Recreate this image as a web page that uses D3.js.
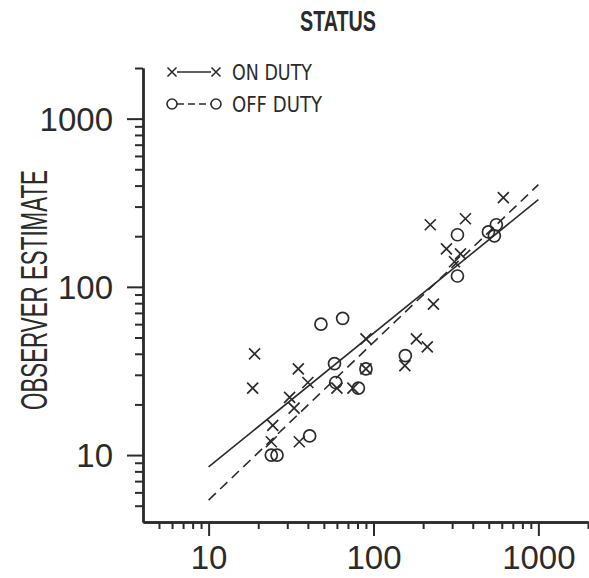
<!DOCTYPE html>
<html>
<head>
<meta charset="utf-8">
<script src="https://cdn.jsdelivr.net/npm/d3@7"></script>
<style>
  html, body { margin: 0; padding: 0; background: #fff; }
  svg { display: block; }
</style>
</head>
<body>
<svg id="chart" width="589" height="578"></svg>
<script>
// Group sizes vs. observer estimates, both on log scales
const onDutyX  = [19, 18.5, 24.5, 24, 31, 33, 35, 40, 35.5, 60, 75, 90, 90, 155, 182, 212, 231, 221, 361, 613, 277, 337, 310];
const onDutyY  = [40, 25, 15, 12, 22, 19, 32.5, 27, 12, 25, 25, 49, 32.5, 34, 49, 44, 79, 234, 254, 339, 168, 157, 141];
const offDutyX = [48, 65, 58, 59, 81, 90, 156, 41, 24, 26, 323, 323, 498, 556, 541];
const offDutyY = [60, 65, 35, 27, 25, 32.5, 39, 13, 10, 10, 204, 116, 212, 234, 201];

// Fitted lines, evaluated at the ends of the fitted range
const fitX       = [10, 1000];
const onDutyFit  = [8.5, 330];
const offDutyFit = [5.4, 405];

const majorTicks = [10, 100, 1000];
const minorTicks = [5, 6, 7, 8, 9, 20, 30, 40, 50, 60, 70, 80, 90,
                    200, 300, 400, 500, 600, 700, 800, 900, 2000];
const tickLabels = ["10", "100", "1000"];

const ink = "#2b2b2b";
const svg = d3.select("#chart");

const x = d3.scaleLog().domain([4, 2000]).range([143, 588]);
const y = d3.scaleLog().domain([4, 2000]).range([522, 68]);

const sans = "'Liberation Sans', Arial, Helvetica, sans-serif";

// Title
svg.append("text")
  .attr("x", 338).attr("y", 31)
  .attr("text-anchor", "middle")
  .attr("font-family", sans)
  .attr("font-weight", "bold")
  .attr("font-size", 30)
  .attr("textLength", 76).attr("lengthAdjust", "spacingAndGlyphs")
  .attr("fill", ink)
  .text("STATUS");

// Y axis title
svg.append("text")
  .attr("transform", "translate(47,290) rotate(-90)")
  .attr("text-anchor", "middle")
  .attr("font-family", sans)
  .attr("font-size", 37)
  .attr("textLength", 240).attr("lengthAdjust", "spacingAndGlyphs")
  .attr("fill", ink)
  .text("OBSERVER ESTIMATE");

// Axes
function styleAxis(g) {
  g.select(".domain").attr("stroke", ink).attr("stroke-width", 2.4);
  g.selectAll(".tick line").attr("stroke", ink).attr("stroke-width", 2);
}

const xMinor = svg.append("g").attr("transform", `translate(0,${y.range()[0]})`)
  .call(d3.axisBottom(x).tickValues(minorTicks).tickSize(7).tickSizeOuter(0).tickFormat(""));
styleAxis(xMinor);
const xMajor = svg.append("g").attr("transform", `translate(0,${y.range()[0]})`)
  .call(d3.axisBottom(x).tickValues(majorTicks).tickSize(14).tickSizeOuter(0)
    .tickFormat((d, i) => tickLabels[i]).tickPadding(10));
styleAxis(xMajor);

const yMinor = svg.append("g").attr("transform", `translate(${x.range()[0]},0)`)
  .call(d3.axisLeft(y).tickValues(minorTicks).tickSize(8).tickSizeOuter(0).tickFormat(""));
styleAxis(yMinor);
const yMajor = svg.append("g").attr("transform", `translate(${x.range()[0]},0)`)
  .call(d3.axisLeft(y).tickValues(majorTicks).tickSize(16).tickSizeOuter(0)
    .tickFormat((d, i) => tickLabels[i]).tickPadding(14));
styleAxis(yMajor);

[xMajor, yMajor].forEach(g => {
  g.selectAll(".tick text")
    .attr("font-family", sans)
    .attr("font-size", 33)
    .attr("fill", ink);
});
yMajor.selectAll(".tick text").attr("dy", "0.36em");

// Fitted lines
const line = d3.line().x(d => x(d[0])).y(d => y(d[1]));
svg.append("path")
  .datum(fitX.map((v, i) => [v, onDutyFit[i]]))
  .attr("d", line).attr("fill", "none")
  .attr("stroke", ink).attr("stroke-width", 1.6);
svg.append("path")
  .datum(fitX.map((v, i) => [v, offDutyFit[i]]))
  .attr("d", line).attr("fill", "none")
  .attr("stroke", ink).attr("stroke-width", 1.6)
  .attr("stroke-dasharray", "10,6");

// Markers
const crossPath = s => `M${-s},${-s}L${s},${s}M${-s},${s}L${s},${-s}`;

svg.append("g").selectAll("path")
  .data(onDutyX.map((v, i) => [v, onDutyY[i]]))
  .join("path")
  .attr("transform", d => `translate(${x(d[0])},${y(d[1])})`)
  .attr("d", crossPath(5.5))
  .attr("fill", "none").attr("stroke", ink).attr("stroke-width", 1.7);

svg.append("g").selectAll("circle")
  .data(offDutyX.map((v, i) => [v, offDutyY[i]]))
  .join("circle")
  .attr("cx", d => x(d[0])).attr("cy", d => y(d[1]))
  .attr("r", 6)
  .attr("fill", "none").attr("stroke", ink).attr("stroke-width", 1.7);

// Legend
const legend = svg.append("g").attr("fill", ink);
const lgX0 = 172, lgX1 = 216, lgText = 232, rowOn = 72, rowOff = 104;
legend.append("path").attr("transform", `translate(${lgX0},${rowOn})`).attr("d", crossPath(4.5))
  .attr("fill", "none").attr("stroke", ink).attr("stroke-width", 1.6);
legend.append("path").attr("transform", `translate(${lgX1},${rowOn})`).attr("d", crossPath(4.5))
  .attr("fill", "none").attr("stroke", ink).attr("stroke-width", 1.6);
legend.append("line").attr("x1", lgX0 + 5).attr("x2", lgX1 - 5).attr("y1", rowOn).attr("y2", rowOn)
  .attr("stroke", ink).attr("stroke-width", 1.6);
legend.append("circle").attr("cx", lgX0).attr("cy", rowOff).attr("r", 5)
  .attr("fill", "none").attr("stroke", ink).attr("stroke-width", 1.6);
legend.append("circle").attr("cx", lgX1).attr("cy", rowOff).attr("r", 5)
  .attr("fill", "none").attr("stroke", ink).attr("stroke-width", 1.6);
legend.append("line").attr("x1", lgX0 + 5).attr("x2", lgX1 - 5).attr("y1", rowOff).attr("y2", rowOff)
  .attr("stroke", ink).attr("stroke-width", 1.6).attr("stroke-dasharray", "7,4");
legend.append("text").attr("x", lgText).attr("y", rowOn + 8)
  .attr("font-family", "'DejaVu Sans', sans-serif").attr("font-size", 21)
  .attr("textLength", 80).attr("lengthAdjust", "spacingAndGlyphs")
  .text("ON DUTY");
legend.append("text").attr("x", lgText).attr("y", rowOff + 8)
  .attr("font-family", "'DejaVu Sans', sans-serif").attr("font-size", 21)
  .attr("textLength", 90).attr("lengthAdjust", "spacingAndGlyphs")
  .text("OFF DUTY");
</script>
</body>
</html>
